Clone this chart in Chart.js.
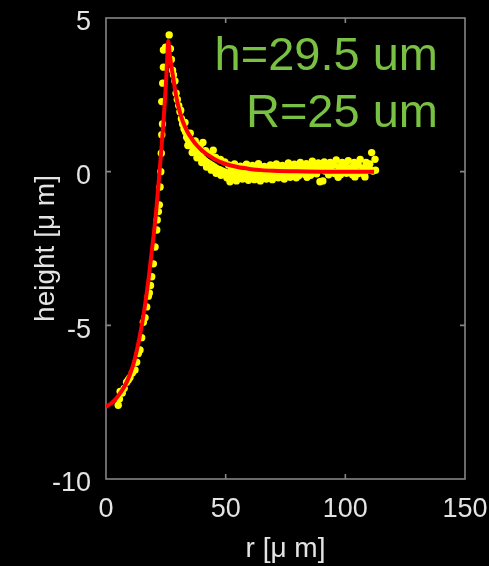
<!DOCTYPE html>
<html>
<head>
<meta charset="utf-8">
<script src="https://cdn.jsdelivr.net/npm/chart.js@4.4.0/dist/chart.umd.min.js"></script>
<style>
  html, body { margin: 0; padding: 0; background: #000; overflow: hidden; }
  canvas { display: block; }
</style>
</head>
<body>
<canvas id="profile" width="489" height="566"></canvas>
<script>
// Measured surface points [r (um), height (um)]
const riseBranch = [
  [5.1,-7.6],[5.6,-7.4],[5.9,-7.15],[6.8,-7.2],[7.6,-7.05],[8.6,-6.85],[9.3,-6.78],
  [10.0,-6.7],[11.0,-6.55],[12.1,-6.45],[12.8,-6.2],[13.5,-5.92],[14.2,-5.8],[14.9,-5.4],
  [15.6,-4.9],[16.3,-4.75],[17.0,-4.4],[17.7,-4.05],[18.1,-3.95],[18.6,-3.7],[19.1,-3.42],
  [19.8,-3.0],[20.5,-2.45],[21.2,-1.9],[21.4,-1.57],[21.9,-1.3],[22.3,-1.08],[22.6,-0.5],
  [22.9,0.0],[23.1,0.6],[23.3,1.2],[23.6,1.55],[23.3,2.28],[23.7,2.88],[24.0,3.4],
  [24.0,3.96],[24.9,4.05],[26.4,4.45]
];
const decayBranch = [
  [26.9,4.0],[27.3,3.65],[27.8,3.3],[28.2,3.15],[28.8,2.95],[29.3,2.55],[29.8,2.35],
  [30.4,2.15],[30.9,1.95],[31.5,1.72],[32.0,1.55],[32.6,1.4],[33.2,1.3],[33.7,1.12],
  [34.3,1.05],[35.0,0.95],[35.6,0.88],[36.3,0.78],[37.0,0.72],[37.8,0.62],[38.6,0.55],
  [39.5,0.5],[40.4,0.42],[41.3,0.36],[42.3,0.3],[43.3,0.25],[44.3,0.2],[45.3,0.15],
  [46.4,0.1],[47.5,0.06],[48.6,0.02],[49.8,-0.02],
  [31.2,2.0],[33.0,1.6],[35.2,1.25],[37.3,1.0],[39.3,0.85],[40.5,0.95],[41.6,0.68],
  [43.6,0.58],[44.8,0.7],[45.8,0.46],[47.8,0.4],[49.6,0.32],
  [34.2,0.85],[36.0,0.62],[38.0,0.45],[40.0,0.3],[42.0,0.15],[44.0,0.05],[46.0,-0.05],
  [48.0,-0.12],[50.5,-0.2],[51.8,-0.33]
];
const plateau = [
  [51.2,0.22],[53.7,0.25],[56.2,0.18],[58.7,0.24],[61.2,0.2],[63.7,0.26],[66.2,0.17],
  [68.7,0.22],[71.2,0.25],[73.7,0.2],[76.2,0.28],[78.7,0.24],[81.2,0.3],[83.7,0.26],
  [86.2,0.34],[88.7,0.28],[91.2,0.32],[93.7,0.3],[96.2,0.38],[98.7,0.3],[101.2,0.36],
  [103.7,0.3],[106.2,0.4],[108.7,0.3],[110.2,0.25],
  [52.5,0.1],[55,0.12],[57.5,0.06],[60,0.1],[62.5,0.05],[65,0.12],[67.5,0.08],[70,0.1],
  [72.5,0.06],[75,0.14],[77.5,0.12],[80,0.16],[82.5,0.12],[85,0.18],[87.5,0.14],[90,0.2],
  [92.5,0.15],[95,0.22],[97.5,0.16],[100,0.2],[102.5,0.14],[105,0.22],[107.5,0.12],[110,0.1],
  [51.5,-0.04],[54,-0.02],[56.5,-0.06],[59,0.0],[61.5,-0.05],[64,-0.02],[66.5,-0.07],
  [69,-0.01],[71.5,-0.04],[74,0.02],[76.5,-0.02],[79,0.04],[81.5,0.0],[84,0.05],[86.5,0.02],
  [89,0.06],[91.5,0.02],[94,0.06],[96.5,0.0],[99,0.06],[101.5,0.02],[104,0.05],[106.5,0.0],
  [109,0.04],[111.5,0.02],
  [53,-0.15],[55.5,-0.18],[58,-0.12],[60.5,-0.17],[63,-0.14],[65.5,-0.2],[68,-0.13],
  [70.5,-0.16],[73,-0.12],[75.5,-0.15],[78,-0.1],[80.5,-0.13],[83,-0.08],[85.5,-0.12],
  [88,-0.07],[93,-0.1],[95.5,-0.06],[98,-0.1],[100.5,-0.05],[103,-0.1],[105.5,-0.06],[108,-0.1],
  [52,-0.28],[54.5,-0.3],[57,-0.24],[59.5,-0.28],[62,-0.26],[64.5,-0.3],[67,-0.24],
  [69.5,-0.26],[72,-0.2],[74.5,-0.24],[77,-0.18],[79.5,-0.2],[84,-0.18],[89.4,-0.33],
  [90.6,-0.3],[97,-0.18],[104,-0.17],[108.2,-0.17],
  [111,0.62],[112.4,0.4],[109,0.18],[105.4,0.22],[112.6,0.05]
];

// Fitted profile
const fitR = [0, 2, 4, 6, 8, 10, 12, 14, 16, 18, 20, 21, 22, 23, 24, 25, 25.6, 26, 26.5, 27,
              28, 29, 30, 31, 32, 34, 36, 38, 40, 43, 46, 50, 55, 60, 65, 70, 80, 90, 100, 112];
const fitH = [-7.65, -7.55, -7.4, -7.2, -6.95, -6.6, -6.1, -5.4, -4.5, -3.35, -2.0, -1.25, -0.35,
              0.6, 1.6, 2.8, 3.7, 4.25, 3.95, 3.6, 3.1, 2.6, 2.2, 1.9, 1.65, 1.3, 1.05, 0.85, 0.7,
              0.52, 0.38, 0.25, 0.15, 0.09, 0.05, 0.03, 0.01, 0, 0, 0];

const xRange = [0, 150];
const yRange = [-10, 5];
const xStep = 50;
const yStep = 5;
const fitLabels = ["h=29.5 um", "R=25 um"];

const FONT = "'Liberation Sans', Arial, sans-serif";
const TEXT = "#e4e4e4";
const FRAME = "#858585";

const measured = riseBranch.concat(decayBranch, plateau).map(([x, y]) => ({ x, y }));
const fitted = fitR.map((r, i) => ({ x: r, y: fitH[i] }));

// Box around the plot area with MATLAB-style inward ticks, plus fit labels
const framePlugin = {
  id: "frame",
  beforeDatasetsDraw(chart) {
    const { ctx, chartArea: a, scales } = chart;
    ctx.save();
    ctx.strokeStyle = FRAME;
    ctx.lineWidth = 1.6;
    ctx.strokeRect(a.left, a.top, a.right - a.left, a.bottom - a.top);
    const len = 5;
    ctx.beginPath();
    scales.x.ticks.forEach(t => {
      if (t.value <= xRange[0] || t.value >= xRange[1]) return;
      const px = scales.x.getPixelForValue(t.value);
      ctx.moveTo(px, a.bottom); ctx.lineTo(px, a.bottom - len);
      ctx.moveTo(px, a.top); ctx.lineTo(px, a.top + len);
    });
    scales.y.ticks.forEach(t => {
      if (t.value <= yRange[0] || t.value >= yRange[1]) return;
      const py = scales.y.getPixelForValue(t.value);
      ctx.moveTo(a.left, py); ctx.lineTo(a.left + len, py);
      ctx.moveTo(a.right, py); ctx.lineTo(a.right - len, py);
    });
    ctx.stroke();
    ctx.restore();
  },
  afterDraw(chart) {
    const { ctx } = chart;
    ctx.save();
    ctx.fillStyle = "#79c142";
    ctx.font = "47px " + FONT;
    ctx.textAlign = "right";
    ctx.textBaseline = "alphabetic";
    ctx.fillText(fitLabels[0], 438, 70);
    ctx.fillText(fitLabels[1], 438, 127);
    ctx.restore();
  }
};

new Chart(document.getElementById("profile"), {
  type: "scatter",
  data: {
    datasets: [
      {
        type: "line",
        data: fitted,
        borderColor: "#ff0000",
        borderWidth: 4,
        pointRadius: 0,
        cubicInterpolationMode: "monotone",
        fill: false,
        order: 1
      },
      {
        data: measured,
        backgroundColor: "#ffff00",
        borderWidth: 0,
        pointRadius: 3.7,
        order: 2
      }
    ]
  },
  options: {
    responsive: false,
    animation: false,
    layout: { padding: { left: 0, top: 18, right: 24, bottom: 0 } },
    plugins: {
      legend: { display: false },
      tooltip: { enabled: false }
    },
    scales: {
      x: {
        type: "linear",
        min: xRange[0], max: xRange[1],
        grid: { display: false },
        border: { display: false },
        ticks: { stepSize: xStep, color: TEXT, padding: 6, font: { family: FONT, size: 27 } },
        title: {
          display: true, text: "r [\u03bc m]", color: TEXT,
          font: { family: FONT, size: 28 }, padding: { top: 0, bottom: 0 }
        },
        afterFit(scale) {
          scale.height = 87;
          scale.paddingLeft = 0;
          scale.paddingRight = 0;
        }
      },
      y: {
        type: "linear",
        min: yRange[0], max: yRange[1],
        grid: { display: false },
        border: { display: false },
        ticks: { stepSize: yStep, color: TEXT, padding: 7, labelOffset: 5, font: { family: FONT, size: 27 } },
        title: {
          display: true, text: "height [\u03bc m]", color: TEXT,
          font: { family: FONT, size: 28 }, padding: { top: 29, bottom: 0 }
        },
        afterFit(scale) {
          scale.width = 106;
          scale.paddingTop = 0;
          scale.paddingBottom = 0;
        }
      }
    }
  },
  plugins: [framePlugin]
});
</script>
</body>
</html>
